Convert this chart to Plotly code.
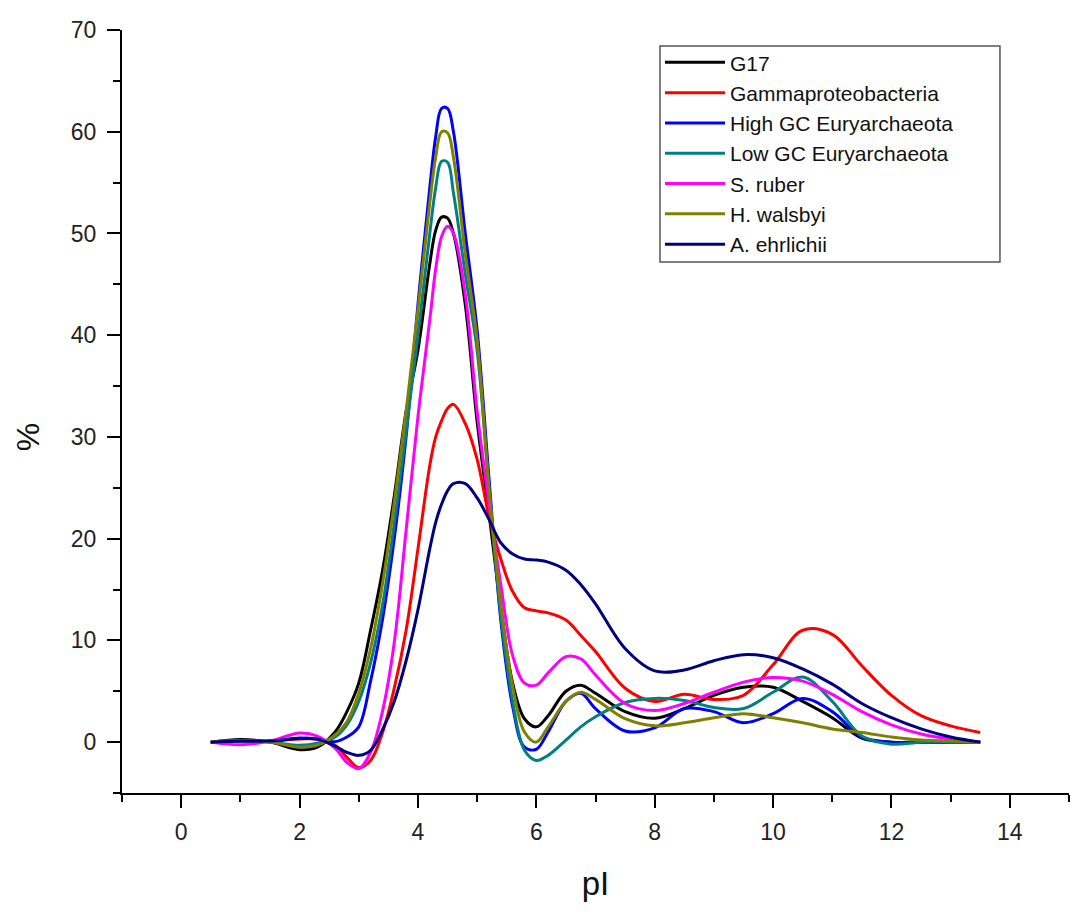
import plotly.graph_objects as go

# pI grid (shared by all series)
pI = [0.5, 1.0, 1.5, 2.0, 2.3, 2.6, 2.8, 3.0, 3.2, 3.4, 3.6, 3.8, 4.0, 4.2, 4.3, 4.4, 4.5, 4.6, 4.8,
      5.0, 5.2, 5.4, 5.6, 5.8, 6.0, 6.2, 6.5, 6.75, 7.0, 7.5, 8.0, 8.5, 9.0, 9.5, 10.0,
      10.5, 11.0, 11.5, 12.0, 12.5, 13.0, 13.5]

g17 = [0, 0.25, 0.0, -0.75, -0.5, 1.0, 3.0, 5.8, 11.0, 16.8, 24.2, 32.5, 38.5, 47.0, 50.3, 51.6, 51.5, 50.0, 43.0,
       31.5, 22.5, 13.3, 5.8, 2.3, 1.5, 2.6, 5.0, 5.6, 4.8, 3.0, 2.35, 3.3, 4.6, 5.4, 5.4,
       4.0, 2.4, 0.4, 0.0, 0.0, 0.0, 0.0]

gamma = [0, 0.05, 0.1, 0.3, 0.3, -0.3, -1.5, -2.5, -1.8, 0.9, 5.3, 11.0, 19.0, 27.2, 30.0, 31.6, 32.8, 33.2, 31.3,
         27.8, 22.2, 18.0, 14.8, 13.2, 12.9, 12.7, 12.0, 10.5, 8.9, 5.3, 4.0, 4.7, 4.2, 4.6, 7.6,
         11.0, 10.6, 7.5, 4.6, 2.6, 1.6, 0.95]

high_gc = [0, 0.1, 0.1, 0.4, 0.3, 0.05, 0.5, 1.5, 6.0, 12.0, 20.0, 30.0, 43.0, 54.5, 59.5, 62.3, 62.3, 60.0, 50.0,
           40.5, 26.0, 12.0, 3.5, -0.5, -0.7, 1.0, 4.0, 4.8, 3.3, 1.1, 1.4, 3.3, 3.0, 1.9, 2.8,
           4.3, 3.0, 0.5, 0.0, 0.0, 0.0, 0.0]

low_gc = [0, 0.1, 0.0, -0.3, -0.1, 0.5, 1.7, 4.0, 7.8, 13.4, 21.5, 30.5, 40.0, 50.0, 54.5, 57.1, 57.0, 54.0, 46.0,
          38.5, 25.0, 12.5, 4.0, -0.8, -1.8, -1.3, 0.2, 1.5, 2.5, 3.9, 4.3, 4.1, 3.4, 3.3, 4.9,
          6.4, 4.0, 0.6, -0.2, 0.0, 0.0, 0.0]

s_ruber = [0, -0.25, 0.1, 0.9, 0.6, -0.6, -2.0, -2.6, -1.0, 3.0, 9.8, 20.8, 32.0, 41.5, 46.5, 49.7, 50.7, 50.0, 44.0,
           32.5, 23.5, 15.5, 8.5, 5.8, 5.6, 6.8, 8.4, 8.2, 6.6, 3.8, 3.1, 3.8, 4.9, 5.9, 6.35,
           6.0, 4.7, 3.0, 1.7, 0.8, 0.3, 0.0]

h_walsbyi = [0, 0.15, 0.0, -0.5, -0.3, 0.7, 2.0, 4.8, 9.2, 15.5, 23.5, 32.5, 42.5, 53.0, 57.5, 60.0, 59.9, 57.5, 48.0,
             39.5, 25.0, 13.5, 5.5, 1.0, 0.0, 1.5, 4.0, 4.9, 4.2, 2.3, 1.6, 1.9, 2.4, 2.8, 2.4,
             1.9, 1.3, 0.95, 0.5, 0.2, 0.1, 0.0]

a_ehrlichii = [0, 0.1, 0.1, 0.35, 0.3, -0.4, -1.0, -1.3, -0.8, 1.2, 4.0, 8.0, 13.0, 19.0, 21.6, 23.4, 24.7, 25.4, 25.4,
               24.0, 21.9, 19.6, 18.5, 18.0, 17.9, 17.7, 16.9, 15.5, 13.6, 9.2, 7.0, 7.1, 8.0, 8.6, 8.3,
               7.2, 5.7, 3.8, 2.4, 1.3, 0.5, 0.0]

names = ["G17", "Gammaproteobacteria", "High GC Euryarchaeota", "Low GC Euryarchaeota",
         "S. ruber", "H. walsbyi", "A. ehrlichii"]
series = [g17, gamma, high_gc, low_gc, s_ruber, h_walsbyi, a_ehrlichii]
colors = ["#000000", "#FF0000", "#0000FF", "#008080", "#FF00FF", "#808000", "#000080"]

x_ticks = [0, 2, 4, 6, 8, 10, 12, 14]
y_ticks = [0, 10, 20, 30, 40, 50, 60, 70]

FONT = "Arial, Liberation Sans, sans-serif"

fig = go.Figure()
for name, vals, col in zip(names, series, colors):
    fig.add_trace(go.Scatter(x=pI, y=vals, name=name, mode="lines",
                             line=dict(color=col, width=3, shape="spline", smoothing=1.0)))

fig.update_layout(
    width=1081, height=914,
    margin=dict(l=122, r=12, t=30, b=121),
    plot_bgcolor="white", paper_bgcolor="white",
    font=dict(family=FONT, color="#222"),
    showlegend=True,
    legend=dict(x=0.5681, y=0.984, xanchor="left", yanchor="top",
                bgcolor="rgba(255,255,255,0)", borderwidth=0,
                itemwidth=60,
                font=dict(family=FONT, size=21, color="#111"),
                tracegroupgap=0),
    shapes=[dict(type="rect", xref="paper", yref="paper", x0=0.5681, x1=0.9271, y0=0.696, y1=0.979,
                 line=dict(color="#555", width=1.5), fillcolor="white", layer="below")],
    xaxis=dict(range=[-1, 15], tickvals=x_ticks, ticks="outside", ticklen=13, tickwidth=2,
               tickcolor="black", showline=True, linecolor="black", linewidth=2,
               showgrid=False, zeroline=False, tickfont=dict(size=23, color="#222"),
               ticklabelstandoff=4,
               minor=dict(dtick=1, tick0=0, ticks="outside", ticklen=7, tickwidth=2, tickcolor="black",
                          showgrid=False),
               title=dict(text="pI", font=dict(size=33, color="#111"), standoff=28)),
    yaxis=dict(range=[-5, 70], tickvals=y_ticks, ticks="outside", ticklen=13, tickwidth=2,
               tickcolor="black", showline=True, linecolor="black", linewidth=2,
               showgrid=False, zeroline=False, tickfont=dict(size=23, color="#222"),
               ticklabelstandoff=6,
               minor=dict(dtick=5, tick0=0, ticks="outside", ticklen=7, tickwidth=2, tickcolor="black",
                          showgrid=False)),
    annotations=[dict(text="%", xref="paper", yref="y", x=-0.12, y=30, showarrow=False,
                      textangle=-90, font=dict(size=32, color="#111", family=FONT))],
)

fig.write_html("out.html")
